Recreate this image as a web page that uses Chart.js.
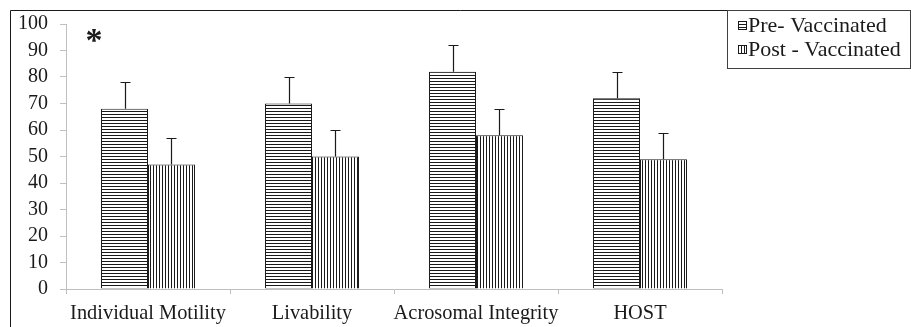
<!DOCTYPE html>
<html>
<head>
<meta charset="utf-8">
<script src="https://cdn.jsdelivr.net/npm/chart.js@4.4.1/dist/chart.umd.min.js"></script>
<style>
  html, body { margin: 0; padding: 0; background: #fff; }
  #wrap { position: relative; width: 911px; height: 327px; }
  canvas { display: block; }
</style>
</head>
<body>
<div id="wrap"><canvas id="chart" width="911" height="327"></canvas></div>
<script>
// Semen quality parameters before and after vaccination (%)
const categories = ['Individual Motility', 'Livability', 'Acrosomal Integrity', 'HOST'];
const preVaccinated = [68, 70, 82, 72];
const postVaccinated = [47, 50, 58, 49];
const preError = [10, 10, 10, 10];
const postError = [10, 10, 10, 10];
const seriesNames = ['Pre- Vaccinated', 'Post - Vaccinated'];
const yTicks = [0, 10, 20, 30, 40, 50, 60, 70, 80, 90, 100];

const SERIF = '"Liberation Serif", "Times New Roman", serif';

// Striped fills: horizontal lines for pre, vertical lines for post
function stripePattern(vertical) {
  const c = document.createElement('canvas');
  c.width = 3; c.height = 3;
  const g = c.getContext('2d');
  g.fillStyle = '#ffffff';
  g.fillRect(0, 0, 3, 3);
  g.fillStyle = '#1a1a1a';
  if (vertical) g.fillRect(0, 0, 1, 3); else g.fillRect(0, 0, 3, 1);
  return g.createPattern(c, 'repeat');
}
const canvas = document.getElementById('chart');
const hStripes = stripePattern(false);
const vStripes = stripePattern(true);

// Upward-only error whiskers with a short cap
const errorBars = {
  id: 'errorBars',
  afterDatasetsDraw(chart) {
    const ctx = chart.ctx;
    const y = chart.scales.y;
    const errs = [preError, postError];
    ctx.save();
    ctx.strokeStyle = '#1a1a1a';
    ctx.lineWidth = 1.2;
    chart.data.datasets.forEach((ds, di) => {
      const meta = chart.getDatasetMeta(di);
      meta.data.forEach((bar, i) => {
        const top = Math.round(y.getPixelForValue(ds.data[i] + errs[di][i])) + 0.5;
        const x = Math.round(bar.x) + 0.5;
        ctx.beginPath();
        ctx.moveTo(x, bar.y);
        ctx.lineTo(x, top);
        ctx.moveTo(x - 5, top);
        ctx.lineTo(x + 5, top);
        ctx.stroke();
      });
    });
    ctx.restore();
  }
};

// Frame, legend box and significance mark
const decorations = {
  id: 'decorations',
  afterDraw(chart) {
    const ctx = chart.ctx;
    ctx.save();
    // outer frame (top and left edges)
    ctx.strokeStyle = '#1a1a1a';
    ctx.lineWidth = 1;
    ctx.beginPath();
    ctx.moveTo(10.5, 327);
    ctx.lineTo(10.5, 10.5);
    ctx.lineTo(911, 10.5);
    ctx.stroke();
    // legend box
    ctx.strokeStyle = '#404040';
    ctx.strokeRect(727.5, 10.5, 183, 58);
    const fills = [hStripes, vStripes];
    const rowsY = [25, 49];
    ctx.font = '22px ' + SERIF;
    ctx.textBaseline = 'middle';
    ctx.textAlign = 'left';
    seriesNames.forEach((name, i) => {
      const ky = rowsY[i] - 4;
      ctx.fillStyle = fills[i];
      ctx.fillRect(738, ky, 9, 9);
      ctx.strokeStyle = '#1a1a1a';
      ctx.strokeRect(738.5, ky + 0.5, 8, 8);
      ctx.fillStyle = '#1a1a1a';
      ctx.fillText(name, 748, rowsY[i] + 1);
    });
    // asterisk
    ctx.font = 'bold 34px ' + SERIF;
    ctx.textAlign = 'center';
    ctx.textBaseline = 'middle';
    ctx.fillText('*', 94, 42);
    ctx.restore();
  }
};

new Chart(canvas, {
  type: 'bar',
  data: {
    labels: categories,
    datasets: [
      {
        label: seriesNames[0],
        data: preVaccinated,
        backgroundColor: hStripes,
        borderColor: '#1a1a1a',
        borderWidth: { top: 1, left: 1, right: 1, bottom: 0 }
      },
      {
        label: seriesNames[1],
        data: postVaccinated,
        backgroundColor: vStripes,
        borderColor: '#1a1a1a',
        borderWidth: { top: 1, left: 1, right: 1, bottom: 0 }
      }
    ]
  },
  options: {
    responsive: false,
    devicePixelRatio: 1,
    animation: false,
    layout: { padding: { top: 19, right: 189, left: 0, bottom: 0 } },
    datasets: { bar: { categoryPercentage: 0.573, barPercentage: 1 } },
    plugins: { legend: { display: false }, tooltip: { enabled: false } },
    scales: {
      x: {
        afterFit(s) { s.height = 38; },
        grid: { drawOnChartArea: false, offset: true, tickLength: 5, color: '#bfbfbf' },
        border: { color: '#bfbfbf' },
        ticks: { font: { family: SERIF, size: 20.4 }, color: '#1a1a1a', padding: 7, maxRotation: 0, autoSkip: false }
      },
      y: {
        min: 0,
        max: 100,
        afterFit(s) { s.width = 66; },
        afterBuildTicks(s) { s.ticks = yTicks.map(v => ({ value: v })); },
        grid: { drawOnChartArea: false, tickLength: 6, color: '#bfbfbf' },
        border: { color: '#bfbfbf' },
        ticks: { font: { family: SERIF, size: 20 }, color: '#1a1a1a', padding: 12, autoSkip: false }
      }
    }
  },
  plugins: [errorBars, decorations]
});
</script>
</body>
</html>
